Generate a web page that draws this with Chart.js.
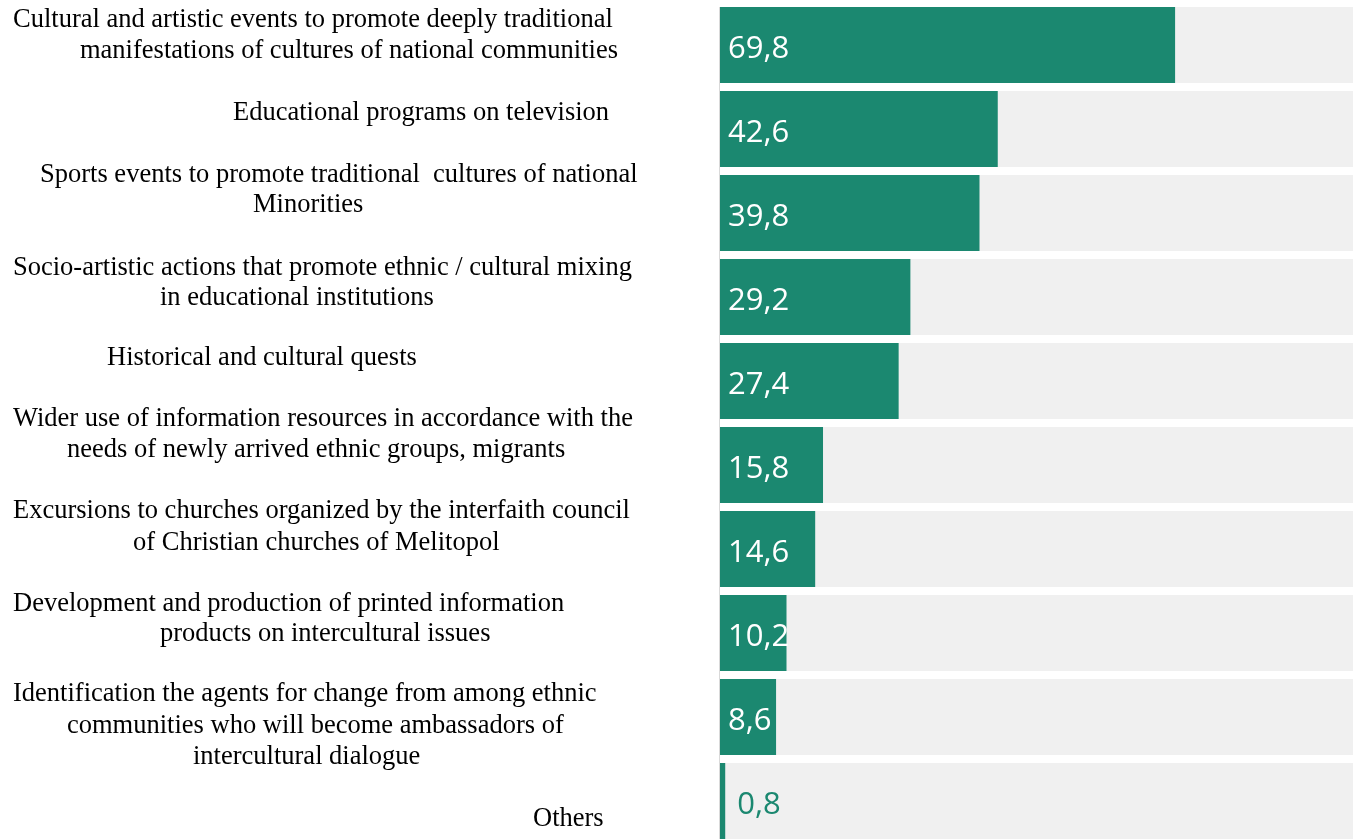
<!DOCTYPE html>
<html>
<head>
<meta charset="utf-8">
<script src="https://cdn.jsdelivr.net/npm/chart.js@4"></script>
<style>
    html, body { margin: 0; padding: 0; background: #fff; overflow: hidden; }
    #wrap { position: relative; width: 1372px; height: 843px; }
</style>
</head>
<body>
<div id="wrap"><canvas id="chart"></canvas></div>
<script>
// Categories (each entry = lines of the label, as in the source)
const categories = [
    ["Cultural and artistic events to promote deeply traditional", "manifestations of cultures of national communities"],
    ["Educational programs on television"],
    ["Sports events to promote traditional  cultures of national", "Minorities"],
    ["Socio-artistic actions that promote ethnic / cultural mixing", "in educational institutions"],
    ["Historical and cultural quests"],
    ["Wider use of information resources in accordance with the", "needs of newly arrived ethnic groups, migrants"],
    ["Excursions to churches organized by the interfaith council", "of Christian churches of Melitopol"],
    ["Development and production of printed information", "products on intercultural issues"],
    ["Identification the agents for change from among ethnic", "communities who will become ambassadors of", "intercultural dialogue"],
    ["Others"]
];

// Share of answers, %
const values = [69.8, 42.6, 39.8, 29.2, 27.4, 15.8, 14.6, 10.2, 8.6, 0.8];

// Where each label line sits: [x, offset from the bar centre]
const labelLayout = [
    [[13, -25], [80, 6]],
    [[233, -16]],
    [[40, -38], [253, -8]],
    [[13, -29], [160, 1]],
    [[107, -23]],
    [[13, -46], [67, -15]],
    [[13, -38], [133, -6]],
    [[13, -29], [160, 1]],
    [[13, -23], [67, 9], [193, 40]],
    [[533, 18]]
];

const barColor = "#1b8870";
const trackColor = "#f0f0f0";

// Grey track behind every bar + thin axis line
const trackPlugin = {
    id: "tracks",
    beforeDatasetsDraw(chart) {
        const ctx = chart.ctx;
        const area = chart.chartArea;
        const bars = chart.getDatasetMeta(0).data;
        ctx.save();
        ctx.fillStyle = trackColor;
        bars.forEach(bar => {
            ctx.fillRect(area.left, bar.y - bar.height / 2, area.right - area.left, bar.height);
        });
        ctx.strokeStyle = "#d9d9d9";
        ctx.lineWidth = 1;
        ctx.beginPath();
        ctx.moveTo(area.left - 0.5, bars[0].y - bars[0].height / 2);
        ctx.lineTo(area.left - 0.5, area.bottom);
        ctx.stroke();
        ctx.restore();
    }
};

// Value labels and the category text on the left
const labelPlugin = {
    id: "labels",
    afterDatasetsDraw(chart) {
        const ctx = chart.ctx;
        const area = chart.chartArea;
        const bars = chart.getDatasetMeta(0).data;
        const yScale = chart.scales.y;
        ctx.save();

        ctx.font = "31px 'Open Sans'";
        ctx.textBaseline = "middle";
        ctx.textAlign = "left";
        bars.forEach((bar, i) => {
            const txt = values[i].toFixed(1).replace(".", ",");
            if (values[i] < 3) {
                ctx.fillStyle = barColor;
                ctx.fillText(txt, bar.x + 12, bar.y + 4);
            } else {
                ctx.fillStyle = "#ffffff";
                ctx.fillText(txt, area.left + 8, bar.y + 4);
            }
        });

        ctx.font = "26.5px 'Liberation Serif'";
        ctx.fillStyle = "#000000";
        categories.forEach((lines, i) => {
            const yc = yScale.getPixelForValue(i);
            lines.forEach((line, j) => {
                const pos = labelLayout[i][j];
                ctx.fillText(line, pos[0], yc + pos[1]);
            });
        });
        ctx.restore();
    }
};

new Chart(document.getElementById("chart"), {
    type: "bar",
    data: {
        labels: categories.map(c => c.join(" ")),
        datasets: [{
            data: values,
            backgroundColor: barColor,
            barPercentage: 0.905,
            categoryPercentage: 1
        }]
    },
    options: {
        indexAxis: "y",
        responsive: true,
        maintainAspectRatio: false,
        animation: false,
        layout: { padding: { left: 720, top: 3, right: 0, bottom: 0 } },
        plugins: {
            legend: { display: false },
            tooltip: { enabled: false }
        },
        scales: {
            x: { min: 0, max: 100, display: false },
            y: { display: false }
        }
    },
    plugins: [trackPlugin, labelPlugin]
});
</script>
</body>
</html>
